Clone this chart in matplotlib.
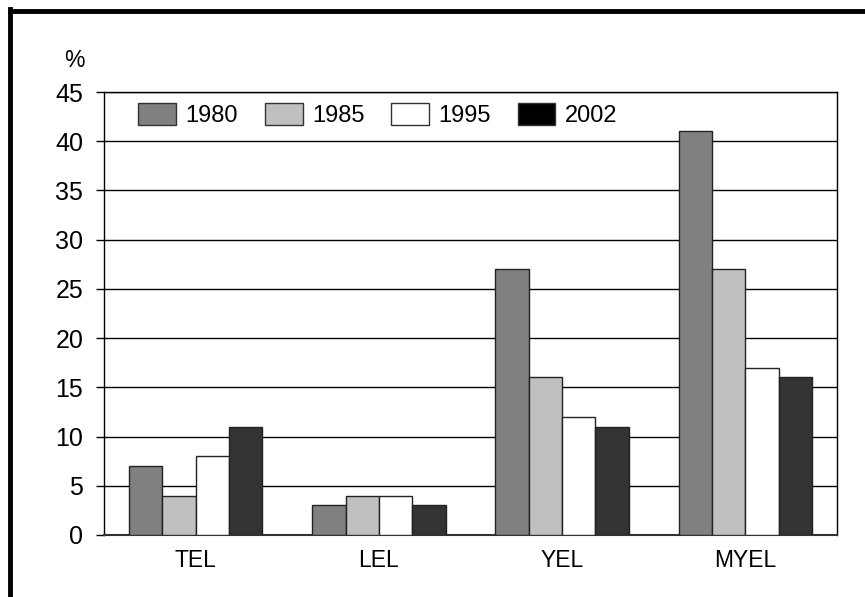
import numpy as np
import matplotlib
matplotlib.use("Agg")
import matplotlib.pyplot as plt
from matplotlib.patches import Patch
from matplotlib.lines import Line2D

plt.rcParams['font.family'] = ['Liberation Sans', 'DejaVu Sans']

categories = ["TEL", "LEL", "YEL", "MYEL"]
years = ["1980", "1985", "1995", "2002"]
v1980 = [7, 3, 27, 41]
v1985 = [4, 4, 16, 27]
v1995 = [8, 4, 12, 17]
v2002 = [11, 3, 11, 16]
yticks = [0, 5, 10, 15, 20, 25, 30, 35, 40, 45]

series = [v1980, v1985, v1995, v2002]
bar_colors = ["#808080", "#c0c0c0", "#ffffff", "#333333"]
legend_colors = ["#808080", "#c0c0c0", "#ffffff", "#000000"]

fig = plt.figure(figsize=(8.65, 5.97), dpi=100)
ax = fig.add_axes([104 / 865, 1 - 535 / 597, (837 - 104) / 865, (535 - 92) / 597])

x = np.arange(len(categories))
w = 0.182
for i, vals in enumerate(series):
    ax.bar(x + (i - 1.5) * w, vals, width=w, color=bar_colors[i],
           edgecolor="#222222", linewidth=1.0, zorder=3)

ax.set_xlim(-0.5, len(categories) - 0.5)
ax.set_ylim(0, 45)
ax.set_yticks(yticks)
ax.set_xticks(x)
ax.set_xticklabels(categories, fontsize=16.5)
ax.tick_params(axis='x', length=0, pad=10)
ax.tick_params(axis='y', length=6, width=1, direction='out', pad=9, labelsize=18)
ax.yaxis.grid(True, color="black", linewidth=1.0, zorder=0)
ax.set_axisbelow(True)
for s in ax.spines.values():
    s.set_linewidth(1.0)
    s.set_color("black")
ax.spines['bottom'].set_color("#333333")
ax.spines['bottom'].set_linewidth(1.5)

handles = [Patch(facecolor=legend_colors[i], edgecolor="#333333", linewidth=1.0) for i in range(4)]
ax.legend(handles, years, loc='upper left', ncol=4, frameon=False, fontsize=17,
          handlelength=1.6, handleheight=1.05, handletextpad=0.4, columnspacing=1.13,
          bbox_to_anchor=(0.026, 1.01), borderaxespad=0.25)

fig.text(74.5 / 865, 1 - 60.5 / 597, "%", fontsize=16.5, ha='center', va='center')

# border round the figure (only top and left visible)
fig.add_artist(Line2D([10 / 865, 1.0], [1 - 10.5 / 597, 1 - 10.5 / 597],
                      transform=fig.transFigure, color="black", linewidth=3.5))
fig.add_artist(Line2D([10 / 865, 10 / 865], [1 - 9 / 597, 0.0],
                      transform=fig.transFigure, color="black", linewidth=3.5))

fig.savefig("out.png", dpi=100)
